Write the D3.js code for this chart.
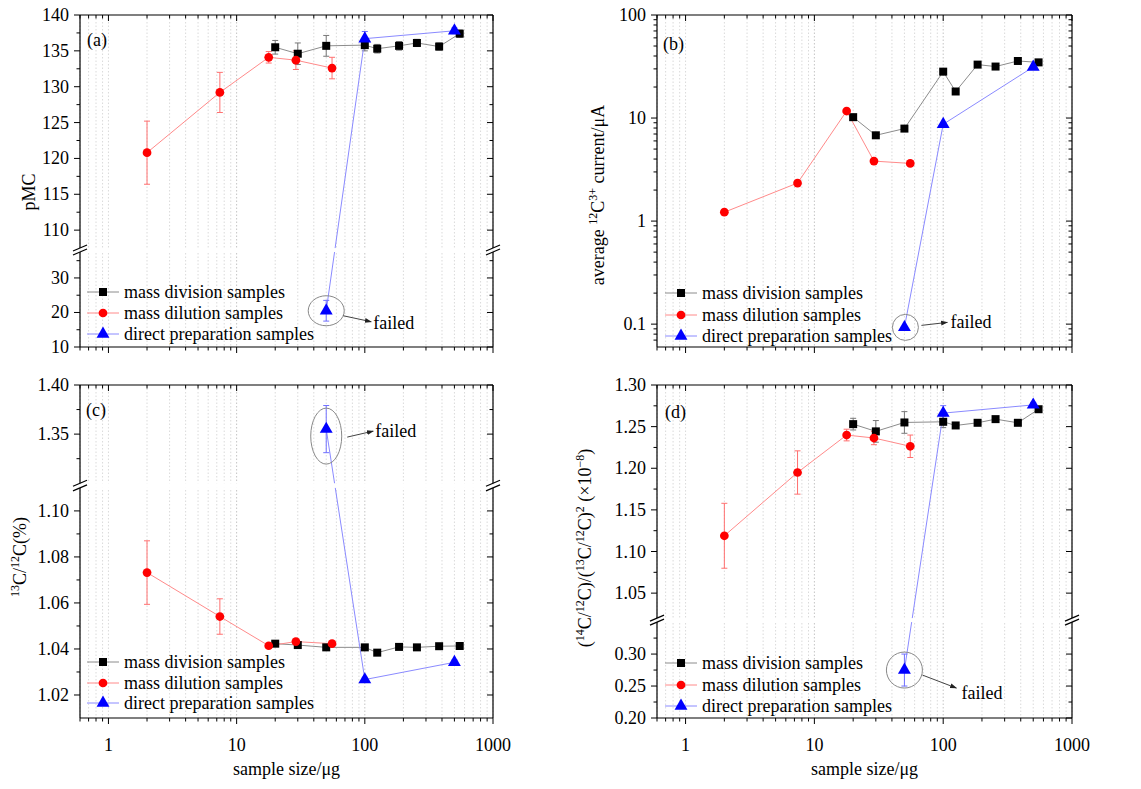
<!DOCTYPE html>
<html>
<head>
<meta charset="utf-8">
<script src="https://cdn.jsdelivr.net/npm/d3@7"></script>
<style>
  body { margin: 0; background: #fff; }
  text { font-family: "Liberation Serif", "Times New Roman", serif; fill: #000; }
</style>
</head>
<body>
<svg id="chart" width="1141" height="789" font-family="Liberation Serif, serif"></svg>
<script>
// sample sizes (µg)
const divX = [20, 30, 50, 100, 125, 185, 255, 380, 550]
const dilX = [2, 7.4, 17.8, 29, 55.5]
const dirX = [50, 100, 500]

// (a) pMC
const pmcDiv = [135.5, 134.6, 135.7, 135.8, 135.3, 135.7, 136.1, 135.6, 137.4]
const pmcDivErr = [0.95, 1.5, 1.45, 0.8, 0.6, 0.6, 0.5, 0.5, 0.5]
const pmcDil = [120.8, 129.2, 134.1, 133.7, 132.6]
const pmcDilErr = [4.4, 2.8, 0.8, 1.3, 1.5]
const pmcDir = [20.5, 136.7, 137.8]
const pmcDirErr = [3, 1.0, 0.4]

// (b) average 12C3+ current
const curDiv = [10.2, 6.8, 7.9, 28.2, 18.1, 33.0, 31.6, 35.8, 34.7]
const curDil = [1.22, 2.34, 11.7, 3.82, 3.63]
const curDir = [0.093, 8.7, 31.3]

// (c) 13C/12C
const ratDiv = [1.0423, 1.0417, 1.0407, 1.0407, 1.0384, 1.0409, 1.0407, 1.0412, 1.0413]
const ratDivErr = [0.001, 0.001, 0.001, 0.001, 0.001, 0.001, 0.001, 0.001, 0.001]
const ratDil = [1.0732, 1.0541, 1.0414, 1.0432, 1.0423]
const ratDilErr = [0.0138, 0.0077, 0.001, 0.001, 0.001]
const ratDir = [1.3551, 1.0267, 1.0342]
const ratDirErr = [0.024, 0.001, 0.001]

// (d) (14C/12C)/(13C/12C)^2
const normDiv = [1.253, 1.2443, 1.255, 1.2558, 1.2514, 1.2546, 1.259, 1.2546, 1.2709]
const normDivErr = [0.007, 0.013, 0.013, 0.007, 0.003, 0.003, 0.003, 0.003, 0.003]
const normDil = [1.1189, 1.1949, 1.2399, 1.2363, 1.2264]
const normDilErr = [0.039, 0.026, 0.007, 0.008, 0.0135]
const normDir = [0.275, 1.2662, 1.2761]
const normDirErr = [0.025, 0.009, 0.003]

const xTickVals = [1, 10, 100, 1000]
const xTickLabels = ['1', '10', '100', '1000']
const seriesNames = ['mass division samples', 'mass dilution samples', 'direct preparation samples']

const styles = [
  { line: '#8c8c8c', err: '#777', fill: '#000', symbol: d3.symbolSquare, size: 64 },
  { line: '#ff8a8a', err: '#ff7070', fill: '#ff0000', symbol: d3.symbolCircle, size: 60 },
  { line: '#8a8aff', err: '#7070ff', fill: '#0000ff', symbol: d3.symbolTriangle, size: 72 },
]

const svg = d3.select('#chart')

svg.append('defs').append('marker')
    .attr('id', 'arrowHead')
    .attr('viewBox', '0 -5 10 10')
    .attr('refX', 9)
    .attr('refY', 0)
    .attr('markerWidth', 7)
    .attr('markerHeight', 7)
    .attr('orient', 'auto')
  .append('path')
    .attr('d', 'M0,-3.5L10,0L0,3.5Z')
    .attr('fill', '#222')

const f2 = d3.format('.2f')

const panels = [
  {
    box: { x0: 80, x1: 493, y0: 15, y1: 347 },
    tag: '(a)', tagPos: [87, 46],
    segs: [
      { domain: [107.5, 140], frac: [0, 0.702], major: [110, 115, 120, 125, 130, 135, 140], minor: [112.5, 117.5, 122.5, 127.5, 132.5, 137.5], fmt: String },
      { domain: [10, 37.5], frac: [0.714, 1], major: [10, 20, 30], minor: [15, 25, 35], fmt: String },
    ],
    series: [[divX, pmcDiv, pmcDivErr], [dilX, pmcDil, pmcDilErr], [dirX, pmcDir, pmcDirErr]],
    title: [['pMC']], titlePos: [35, 192],
    legend: { rows: [292, 313, 334], x: 87 },
    failed: { x: 50, v: 20.5, rx: 18, ry: 15, dx: 0, dy: 0, a0: [17, 5], a1: [45, 11], t: [47, 18] },
    xLabels: false,
  },
  {
    box: { x0: 657, x1: 1072, y0: 15, y1: 347 },
    tag: '(b)', tagPos: [663, 50],
    segs: [
      { log: true, domain: [0.06, 100], frac: [0, 1], major: [0.1, 1, 10, 100],
        minor: [0.07, 0.08, 0.09, 0.2, 0.3, 0.4, 0.5, 0.6, 0.7, 0.8, 0.9, 2, 3, 4, 5, 6, 7, 8, 9, 20, 30, 40, 50, 60, 70, 80, 90],
        fmt: d => String(d) },
    ],
    series: [[divX, curDiv, null], [dilX, curDil, null], [dirX, curDir, null]],
    title: [['average '], ['12', 1], ['C'], ['3+', 1], [' current/μA']], titlePos: [604, 195],
    legend: { rows: [293, 315, 336], x: 665 },
    failed: { x: 50, v: 0.093, rx: 13, ry: 13, dx: 1, dy: 0, a0: [17, -2], a1: [43, -5], t: [46, 1] },
    xLabels: false,
  },
  {
    box: { x0: 80, x1: 493, y0: 385, y1: 718 },
    tag: '(c)', tagPos: [86, 416],
    segs: [
      { domain: [1.30, 1.40], frac: [0, 0.295], major: [1.35, 1.40], minor: [1.325, 1.375], fmt: f2 },
      { domain: [1.01, 1.11], frac: [0.309, 1], major: [1.02, 1.04, 1.06, 1.08, 1.10], minor: [1.03, 1.05, 1.07, 1.09], fmt: f2 },
    ],
    series: [[divX, ratDiv, ratDivErr], [dilX, ratDil, ratDilErr], [dirX, ratDir, ratDirErr]],
    title: [['13', 1], ['C/'], ['12', 1], ['C(%)']], titlePos: [26, 557],
    legend: { rows: [662, 683, 703], x: 87 },
    failed: { x: 50, v: 1.3551, rx: 15.5, ry: 28, dx: 0, dy: 7, a0: [21, 8], a1: [47, 2], t: [49, 8] },
    xLabels: true,
  },
  {
    box: { x0: 657, x1: 1072, y0: 385, y1: 718 },
    tag: '(d)', tagPos: [665, 418],
    segs: [
      { domain: [1.02, 1.30], frac: [0, 0.700], major: [1.05, 1.10, 1.15, 1.20, 1.25, 1.30], minor: [1.075, 1.125, 1.175, 1.225, 1.275], fmt: f2 },
      { domain: [0.20, 0.35], frac: [0.712, 1], major: [0.20, 0.25, 0.30], minor: [0.225, 0.275, 0.325], fmt: f2 },
    ],
    series: [[divX, normDiv, normDivErr], [dilX, normDil, normDilErr], [dirX, normDir, normDirErr]],
    title: [['('], ['14', 1], ['C/'], ['12', 1], ['C)/('], ['13', 1], ['C/'], ['12', 1], ['C)'], ['2', 1], [' (×10'], ['−8', 1], [')']],
    titlePos: [591, 548],
    legend: { rows: [663, 685, 706], x: 665 },
    failed: { x: 50, v: 0.275, rx: 18, ry: 18, dx: 0, dy: 0, a0: [18, 5], a1: [52, 18], t: [57, 29] },
    xLabels: true,
  },
]

panels.forEach(drawPanel)

// text with superscript runs: parts = [[text, isSup], ...]
function richText(sel, parts) {
  let up = false
  parts.forEach(([t, sup]) => {
    const ts = sel.append('tspan').text(t)
    if (sup) {
      ts.attr('font-size', 12)
      if (!up) { ts.attr('dy', -7); up = true }
    } else if (up) {
      ts.attr('dy', 7); up = false
    }
  })
}

function drawPanel(p) {
  const b = p.box
  const H = b.y1 - b.y0
  const g = svg.append('g')

  const x = d3.scaleLog().domain([0.6, 1000]).range([b.x0, b.x1])
  // one scale per axis segment (broken axes have two)
  const segs = p.segs.map(s => Object.assign({}, s, {
    top: b.y0 + s.frac[0] * H,
    bot: b.y0 + s.frac[1] * H,
    scale: (s.log ? d3.scaleLog() : d3.scaleLinear())
      .domain(s.domain).range([b.y0 + s.frac[1] * H, b.y0 + s.frac[0] * H]),
  }))
  const y = v => {
    const s = segs.find(s => v >= s.domain[0] - 1e-9 && v <= s.domain[1] + 1e-9) || segs[0]
    return s.scale(v)
  }

  // vertical dotted grid
  g.append('g').selectAll('line')
    .data(x.ticks())
    .join('line')
      .attr('x1', d => x(d)).attr('x2', d => x(d))
      .attr('y1', b.y0).attr('y2', b.y1)
      .attr('stroke', d => (d === 10 || d === 100) ? '#c4c4c4' : '#dadada')
      .attr('stroke-dasharray', '1.5,2')
      .attr('stroke-width', 1)

  // series lines + error bars
  p.series.forEach(([xs, ys, es], i) => {
    const st = styles[i]
    const pts = xs.map((d, j) => [x(d), y(ys[j])])
    g.append('path')
      .attr('d', d3.line()(pts))
      .attr('fill', 'none')
      .attr('stroke', st.line)
      .attr('stroke-width', 1)
    if (!es) return
    const eb = g.append('g').attr('stroke', st.err).attr('stroke-width', 1)
    xs.forEach((d, j) => {
      const cx = x(d)
      const ya = y(ys[j] + es[j])
      const yb = y(ys[j] - es[j])
      eb.append('line').attr('x1', cx).attr('x2', cx).attr('y1', ya).attr('y2', yb)
      eb.append('line').attr('x1', cx - 3).attr('x2', cx + 3).attr('y1', ya).attr('y2', ya)
      eb.append('line').attr('x1', cx - 3).attr('x2', cx + 3).attr('y1', yb).attr('y2', yb)
    })
  })

  // axis break gap
  for (let k = 0; k < segs.length - 1; k++) {
    g.append('rect')
      .attr('x', b.x0 + 1).attr('width', b.x1 - b.x0 - 2)
      .attr('y', segs[k].bot).attr('height', segs[k + 1].top - segs[k].bot)
      .attr('fill', '#fff')
  }

  // markers
  p.series.forEach(([xs, ys], i) => {
    const st = styles[i]
    g.append('g').selectAll('path')
      .data(xs)
      .join('path')
        .attr('transform', (d, j) => `translate(${x(d)},${y(ys[j])})`)
        .attr('d', d3.symbol(st.symbol, st.size))
        .attr('fill', st.fill)
  })

  // frame
  const fr = g.append('g').attr('stroke', '#000').attr('stroke-width', 1.2).attr('fill', 'none')
  fr.append('line').attr('x1', b.x0).attr('x2', b.x1).attr('y1', b.y0).attr('y2', b.y0)
  fr.append('line').attr('x1', b.x0).attr('x2', b.x1).attr('y1', b.y1).attr('y2', b.y1)
  segs.forEach(s => {
    ;[b.x0, b.x1].forEach(xx => {
      fr.append('line').attr('x1', xx).attr('x2', xx).attr('y1', s.top).attr('y2', s.bot)
    })
  })
  for (let k = 0; k < segs.length - 1; k++) {
    ;[b.x0, b.x1].forEach(xx => {
      ;[segs[k].bot, segs[k + 1].top].forEach(yy => {
        fr.append('line')
          .attr('x1', xx - 7).attr('y1', yy + 3)
          .attr('x2', xx + 7).attr('y2', yy - 3)
      })
    })
  }

  // x ticks (pointing down on both edges)
  const tk = g.append('g').attr('stroke', '#000').attr('stroke-width', 1)
  x.ticks().forEach(d => {
    const major = xTickVals.includes(d)
    const len = major ? 6 : 3.5
    ;[b.y0, b.y1].forEach(yy => {
      tk.append('line').attr('x1', x(d)).attr('x2', x(d)).attr('y1', yy).attr('y2', yy + len)
    })
  })
  if (p.xLabels) {
    g.append('g').selectAll('text')
      .data(xTickVals)
      .join('text')
        .attr('x', d => x(d))
        .attr('y', b.y1 + 33)
        .attr('text-anchor', 'middle')
        .attr('font-size', 18)
        .text((d, i) => xTickLabels[i])
    g.append('text')
      .attr('x', (b.x0 + b.x1) / 2)
      .attr('y', b.y1 + 57)
      .attr('text-anchor', 'middle')
      .attr('font-size', 18)
      .text('sample size/μg')
  }

  // y ticks (pointing left on both edges)
  segs.forEach(s => {
    s.major.forEach(v => {
      const yy = s.scale(v)
      tk.append('line').attr('x1', b.x0 - 6).attr('x2', b.x0).attr('y1', yy).attr('y2', yy)
      tk.append('line').attr('x1', b.x1 - 6).attr('x2', b.x1).attr('y1', yy).attr('y2', yy)
      g.append('text')
        .attr('x', b.x0 - 11)
        .attr('y', yy + 6)
        .attr('text-anchor', 'end')
        .attr('font-size', 18)
        .text(s.fmt(v))
    })
    s.minor.forEach(v => {
      const yy = s.scale(v)
      tk.append('line').attr('x1', b.x0 - 3.5).attr('x2', b.x0).attr('y1', yy).attr('y2', yy)
      tk.append('line').attr('x1', b.x1 - 3.5).attr('x2', b.x1).attr('y1', yy).attr('y2', yy)
    })
  })

  // y title
  const tt = g.append('text')
    .attr('transform', `translate(${p.titlePos[0]},${p.titlePos[1]}) rotate(-90)`)
    .attr('text-anchor', 'middle')
    .attr('font-size', 18)
  richText(tt, p.title)

  // panel tag
  g.append('text')
    .attr('x', p.tagPos[0]).attr('y', p.tagPos[1])
    .attr('font-size', 18)
    .text(p.tag)

  // legend
  const lg = g.append('g')
  p.legend.rows.forEach((ry, i) => {
    const st = styles[i]
    lg.append('line')
      .attr('x1', p.legend.x).attr('x2', p.legend.x + 32)
      .attr('y1', ry).attr('y2', ry)
      .attr('stroke', st.line).attr('stroke-width', 1)
    lg.append('path')
      .attr('transform', `translate(${p.legend.x + 16},${ry})`)
      .attr('d', d3.symbol(st.symbol, st.size))
      .attr('fill', st.fill)
    lg.append('text')
      .attr('x', p.legend.x + 37)
      .attr('y', ry + 6)
      .attr('font-size', 18)
      .text(seriesNames[i])
  })

  // "failed" annotation
  const f = p.failed
  const fx = x(f.x)
  const fy = y(f.v)
  g.append('ellipse')
    .attr('cx', fx + f.dx).attr('cy', fy + f.dy)
    .attr('rx', f.rx).attr('ry', f.ry)
    .attr('fill', 'none').attr('stroke', '#888').attr('stroke-width', 1)
  g.append('line')
    .attr('x1', fx + f.a0[0]).attr('y1', fy + f.a0[1])
    .attr('x2', fx + f.a1[0]).attr('y2', fy + f.a1[1])
    .attr('stroke', '#444').attr('stroke-width', 1)
    .attr('marker-end', 'url(#arrowHead)')
  g.append('text')
    .attr('x', fx + f.t[0]).attr('y', fy + f.t[1])
    .attr('font-size', 18)
    .text('failed')
}
</script>
</body>
</html>
